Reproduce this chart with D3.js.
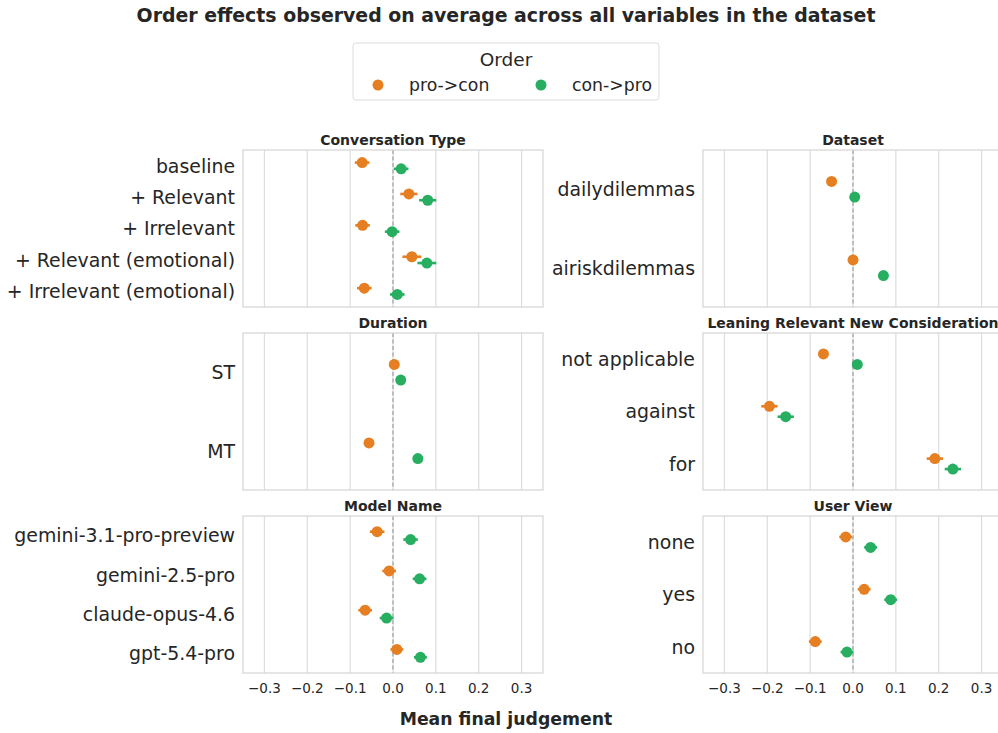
<!DOCTYPE html>
<html>
<head>
<meta charset="utf-8">
<script src="https://cdn.jsdelivr.net/npm/d3@7"></script>
<style>
  body { margin: 0; background: #fff; }
  text { font-family: "DejaVu Sans", sans-serif; fill: #262626; }
</style>
</head>
<body>
<script>
var width = 998,
    height = 733;

// order labels + colours
var orders = ["pro->con", "con->pro"];
var colors = ["#e67e22", "#27ae60"];

// panel titles
var titles = ["Conversation Type", "Dataset", "Duration",
              "Leaning Relevant New Consideration", "Model Name", "User View"];

// categories per panel
var convCats = ["baseline", "+ Relevant", "+ Irrelevant", "+ Relevant (emotional)", "+ Irrelevant (emotional)"];
var dataCats = ["dailydilemmas", "airiskdilemmas"];
var durCats = ["ST", "MT"];
var leanCats = ["not applicable", "against", "for"];
var modelCats = ["gemini-3.1-pro-preview", "gemini-2.5-pro", "claude-opus-4.6", "gpt-5.4-pro"];
var viewCats = ["none", "yes", "no"];

// means: pro->con
var convPro = [-0.072, 0.037, -0.071, 0.044, -0.067];
var dataPro = [-0.050, 0.000];
var durPro = [0.003, -0.056];
var leanPro = [-0.069, -0.195, 0.191];
var modelPro = [-0.037, -0.009, -0.065, 0.009];
var viewPro = [-0.017, 0.026, -0.088];

// means: con->pro
var convCon = [0.019, 0.081, -0.002, 0.079, 0.010];
var dataCon = [0.004, 0.071];
var durCon = [0.018, 0.058];
var leanCon = [0.010, -0.157, 0.233];
var modelCon = [0.041, 0.062, -0.015, 0.064];
var viewCon = [0.041, 0.088, -0.014];

// half-width of the confidence intervals
var convErr = [0.017, 0.020, 0.017, 0.022, 0.017];
var dataErr = [0.007, 0.007];
var durErr = [0.007, 0.007];
var leanErr = [0.008, 0.019, 0.019];
var modelErr = [0.017, 0.016, 0.016, 0.015];
var viewErr = [0.015, 0.015, 0.015];

var xTicks = [-0.3, -0.2, -0.1, 0.0, 0.1, 0.2, 0.3];

var panels = [
  {cats: convCats, pro: convPro, con: convCon, err: convErr},
  {cats: dataCats, pro: dataPro, con: dataCon, err: dataErr},
  {cats: durCats, pro: durPro, con: durCon, err: durErr},
  {cats: leanCats, pro: leanPro, con: leanCon, err: leanErr},
  {cats: modelCats, pro: modelPro, con: modelCon, err: modelErr},
  {cats: viewCats, pro: viewPro, con: viewCon, err: viewErr}
];

var colX = [243, 703],
    rowY = [150, 333, 516],
    pw = 300,
    ph = 157;

var x = d3.scaleLinear().domain([-0.35, 0.35]).range([0, pw]);
var fmt = function(d) { return d3.format(".1f")(d).replace("-", "\u2212"); };

var svg = d3.select("body").append("svg")
  .attr("width", width)
  .attr("height", height);

svg.append("text")
  .attr("x", 506).attr("y", 22)
  .attr("text-anchor", "middle")
  .style("font-size", "18.9px").style("font-weight", "bold")
  .text("Order effects observed on average across all variables in the dataset");

// legend
var leg = svg.append("g").attr("transform", "translate(353,43)");
leg.append("rect")
  .attr("width", 306).attr("height", 57).attr("rx", 3)
  .attr("fill", "#fff").attr("stroke", "#dcdcdc");
leg.append("text")
  .attr("x", 153).attr("y", 23)
  .attr("text-anchor", "middle")
  .style("font-size", "18.5px")
  .text("Order");
leg.selectAll(".item")
  .data(orders)
  .enter().append("g")
    .attr("transform", function(d, i) { return "translate(" + (25 + i * 163) + ",42)"; })
    .each(function(d, i) {
      var g = d3.select(this);
      g.append("circle").attr("r", 5.5).attr("fill", colors[i]);
      g.append("text").attr("x", 31).attr("y", 6).style("font-size", "17.3px").text(d);
    });

panels.forEach(function(p, k) {
  var col = k % 2, row = Math.floor(k / 2);
  var g = svg.append("g")
    .attr("transform", "translate(" + colX[col] + "," + rowY[row] + ")");

  var y = d3.scaleLinear().domain([-0.5, p.cats.length - 0.5]).range([0, ph]);

  g.selectAll(".grid")
    .data(xTicks)
    .enter().append("line")
      .attr("x1", x).attr("x2", x)
      .attr("y1", 0).attr("y2", ph)
      .attr("stroke", "#dddddd").attr("stroke-width", 1.2);

  g.append("line")
    .attr("x1", x(0)).attr("x2", x(0))
    .attr("y1", 0).attr("y2", ph)
    .attr("stroke", "#999").attr("stroke-width", 1.1)
    .attr("stroke-dasharray", "4,2.5");

  g.append("rect")
    .attr("width", pw).attr("height", ph)
    .attr("fill", "none").attr("stroke", "#d4d4d4").attr("stroke-width", 1.2);

  g.append("text")
    .attr("x", pw / 2).attr("y", -5)
    .attr("text-anchor", "middle")
    .style("font-size", "14px").style("font-weight", "bold")
    .text(titles[k]);

  g.selectAll(".cat")
    .data(p.cats)
    .enter().append("text")
      .attr("x", -8)
      .attr("y", function(d, i) { return y(i); })
      .attr("dy", "0.36em")
      .attr("text-anchor", "end")
      .style("font-size", "18.9px")
      .text(function(d) { return d; });

  [p.pro, p.con].forEach(function(vals, h) {
    var off = h === 0 ? -0.1 : 0.1;
    var pts = g.append("g");
    pts.selectAll("line")
      .data(vals)
      .enter().append("line")
        .attr("x1", function(d, i) { return x(d - p.err[i]); })
        .attr("x2", function(d, i) { return x(d + p.err[i]); })
        .attr("y1", function(d, i) { return y(i + off); })
        .attr("y2", function(d, i) { return y(i + off); })
        .attr("stroke", colors[h]).attr("stroke-width", 2.6);
    pts.selectAll("circle")
      .data(vals)
      .enter().append("circle")
        .attr("cx", function(d) { return x(d); })
        .attr("cy", function(d, i) { return y(i + off); })
        .attr("r", 5.5)
        .attr("fill", colors[h]);
  });

  if (row === 2) {
    g.selectAll(".tick")
      .data(xTicks)
      .enter().append("text")
        .attr("x", x)
        .attr("y", ph + 20)
        .attr("text-anchor", "middle")
        .style("font-size", "13.5px")
        .text(fmt);
  }
});

svg.append("text")
  .attr("x", 506).attr("y", 725)
  .attr("text-anchor", "middle")
  .style("font-size", "17.3px").style("font-weight", "bold")
  .text("Mean final judgement");
</script>
</body>
</html>
